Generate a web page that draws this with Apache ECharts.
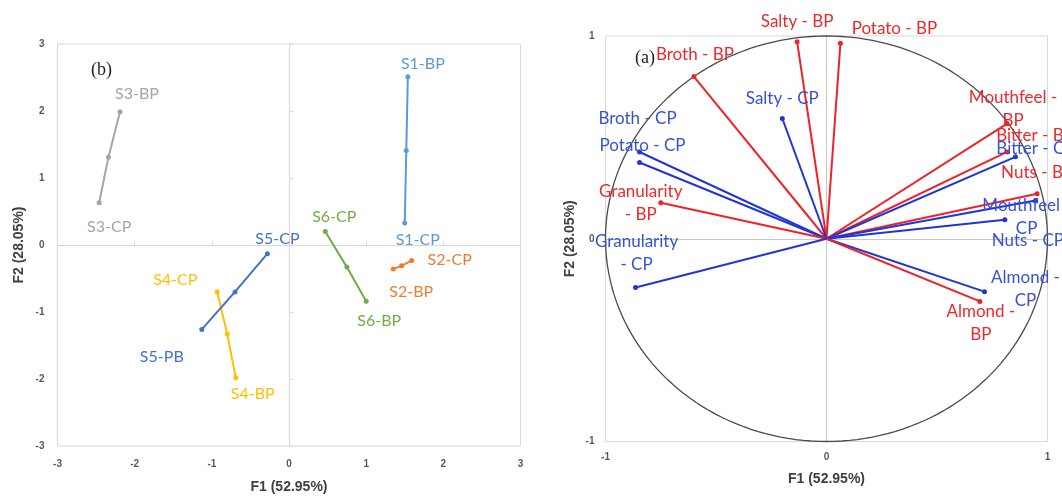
<!DOCTYPE html>
<html>
<head>
<meta charset="utf-8">
<script src="https://cdn.jsdelivr.net/npm/echarts@6/dist/echarts.min.js"></script>
<style>
  html, body { margin: 0; padding: 0; background: #fff; }
  #main { width: 1062px; height: 499px; }
</style>
</head>
<body>
<div id="main"></div>
<script>
// (b) sample scores, each sample goes BP -> middle -> CP
var samples = ['S1', 'S2', 'S3', 'S4', 'S5', 'S6'];
var bpLabels = ['S1-BP', 'S2-BP', 'S3-BP', 'S4-BP', 'S5-PB', 'S6-BP'];
var cpLabels = ['S1-CP', 'S2-CP', 'S3-CP', 'S4-CP', 'S5-CP', 'S6-CP'];
var bpF1 = [1.54, 1.35, -2.19, -0.69, -1.13, 1.00];
var bpF2 = [2.51, -0.36, 1.99, -1.98, -1.26, -0.84];
var midF1 = [1.52, 1.46, -2.34, -0.80, -0.70, 0.75];
var midF2 = [1.41, -0.31, 1.31, -1.33, -0.70, -0.33];
var cpF1 = [1.50, 1.59, -2.46, -0.93, -0.28, 0.47];
var cpF2 = [0.33, -0.23, 0.63, -0.70, -0.13, 0.20];

// (a) correlation circle variables
var varNames = ['Salty - BP', 'Potato - BP', 'Broth - BP', 'Salty - CP', 'Broth - CP', 'Potato - CP',
  'Granularity\n- BP', 'Granularity\n- CP', 'Mouthfeel -\nBP', 'Bitter - BP', 'Bitter - CP',
  'Nuts - BP', 'Mouthfeel -\nCP', 'Nuts - CP', 'Almond -\nCP', 'Almond -\nBP'];
var varGroup = ['BP', 'BP', 'BP', 'CP', 'CP', 'CP', 'BP', 'CP', 'BP', 'BP', 'CP', 'BP', 'CP', 'CP', 'CP', 'BP'];
var varF1 = [-0.133, 0.063, -0.60, -0.20, -0.846, -0.846, -0.75, -0.864, 0.817, 0.817, 0.855, 0.953, 0.946, 0.807, 0.715, 0.694];
var varF2 = [0.972, 0.964, 0.80, 0.593, 0.428, 0.376, 0.178, -0.24, 0.568, 0.428, 0.404, 0.222, 0.189, 0.094, -0.261, -0.309];

// styling
var sampleColors = ['#5b9bd5', '#ed7d31', '#a5a5a5', '#ffc000', '#4472c4', '#70ad47'];
var bpOffset = [[15, -13], [18, 23], [17, -18], [17, 16], [-40, 27], [13, 20]];
var cpOffset = [[13, 17], [38, -1], [10, 24], [-42, -12], [10, -15], [9, -15]];
var varOffset = [[0, -20], [54, -15], [1, -22], [0, -20], [-2, -33], [3, -17], [-20, 0], [1, -34],
  [6, -15], [28, -16], [20, -8], [0, -21], [-9, 17], [23, 21], [41, -3], [1, 22]];
var lineColor = { BP: '#ee2228', CP: '#2035d2' };
var textColor = { BP: '#e82a2f', CP: '#3652da' };

var tickText = { fontSize: 10, color: '#595959', fontFamily: 'Liberation Sans', fontWeight: 'bold' };
var nameText = { fontSize: 14, color: '#404040', fontFamily: 'Liberation Sans', fontWeight: 'bold' };

function labelAxis(grid, min, max, name, gap, margin) {
  return {
    gridIndex: grid, type: 'value', min: min, max: max, interval: 1,
    axisLine: { show: false, onZero: false }, axisTick: { show: false }, splitLine: { show: false },
    axisLabel: Object.assign({ margin: margin }, tickText),
    name: name, nameLocation: 'middle', nameGap: gap, nameTextStyle: nameText
  };
}
function zeroAxis(grid, min, max, tick, color) {
  return {
    gridIndex: grid, type: 'value', min: min, max: max, interval: 1,
    axisLine: { show: true, onZero: true, lineStyle: { color: color, width: 1 } },
    axisTick: { show: tick, length: 4, lineStyle: { color: color } },
    axisLabel: { show: false }, splitLine: { show: false }
  };
}

var series = [];

// left panel lines
samples.forEach(function (s, i) {
  var lab = function (text, off) {
    return { show: true, position: 'inside', formatter: text, offset: off,
      color: sampleColors[i], fontSize: 16, fontFamily: 'Lato' };
  };
  series.push({
    name: s, type: 'line', xAxisIndex: 0, yAxisIndex: 0,
    symbol: 'circle', symbolSize: 5, showSymbol: true,
    lineStyle: { color: sampleColors[i], width: 2 },
    itemStyle: { color: sampleColors[i] },
    data: [
      { value: [bpF1[i], bpF2[i]], label: lab(bpLabels[i], bpOffset[i]) },
      { value: [midF1[i], midF2[i]] },
      { value: [cpF1[i], cpF2[i]], label: lab(cpLabels[i], cpOffset[i]) }
    ],
    z: 3
  });
});

// right panel unit circle
series.push({
  type: 'custom', xAxisIndex: 2, yAxisIndex: 2, silent: true, clip: false,
  data: [[0, 0]],
  renderItem: function (params, api) {
    var pts = [];
    for (var a = 0; a <= 360; a += 2) {
      var r = a * Math.PI / 180;
      pts.push(api.coord([Math.cos(r), Math.sin(r)]));
    }
    return { type: 'polyline', shape: { points: pts },
      style: { fill: null, stroke: '#4a4a4a', lineWidth: 1.3 } };
  },
  z: 2
});

// right panel vectors
varNames.forEach(function (n, i) {
  var g = varGroup[i];
  series.push({
    name: n, type: 'line', xAxisIndex: 2, yAxisIndex: 2,
    symbol: 'circle', symbolSize: 5, showSymbol: true,
    lineStyle: { color: lineColor[g], width: 2 },
    itemStyle: { color: lineColor[g] },
    data: [
      { value: [0, 0], symbol: 'none' },
      { value: [varF1[i], varF2[i]], label: { show: true, position: 'inside', formatter: n,
        offset: varOffset[i], color: textColor[g], fontSize: 17, fontFamily: 'Lato', lineHeight: 23, align: 'center' } }
    ],
    z: 3
  });
});

var chart = echarts.init(document.getElementById('main'));
chart.setOption({
  animation: false,
  backgroundColor: '#fff',
  title: [
    { text: '(b)', left: 86, top: 56, textStyle: { fontFamily: 'Liberation Serif', fontSize: 18, fontWeight: 'normal', color: '#222' } },
    { text: '(a)', left: 630, top: 44, textStyle: { fontFamily: 'Liberation Serif', fontSize: 18, fontWeight: 'normal', color: '#222' } }
  ],
  grid: [
    { left: 57.5, top: 44, width: 463, height: 406.5, show: true, borderColor: '#d9d9d9', borderWidth: 1 },
    { left: 605.5, top: 36, width: 442, height: 405.5, show: true, borderColor: '#d9d9d9', borderWidth: 1 }
  ],
  xAxis: [
    labelAxis(0, -3, 3, 'F1 (52.95%)', 34, 13),
    zeroAxis(0, -3, 3, true, '#d9d9d9'),
    labelAxis(1, -1, 1, 'F1 (52.95%)', 31, 11),
    zeroAxis(1, -1, 1, false, '#c8c8c8')
  ],
  yAxis: [
    labelAxis(0, -3, 3, 'F2 (28.05%)', 31, 13),
    zeroAxis(0, -3, 3, true, '#d9d9d9'),
    labelAxis(1, -1, 1, 'F2 (28.05%)', 28, 11),
    zeroAxis(1, -1, 1, false, '#c8c8c8')
  ],
  series: series
});
</script>
</body>
</html>
